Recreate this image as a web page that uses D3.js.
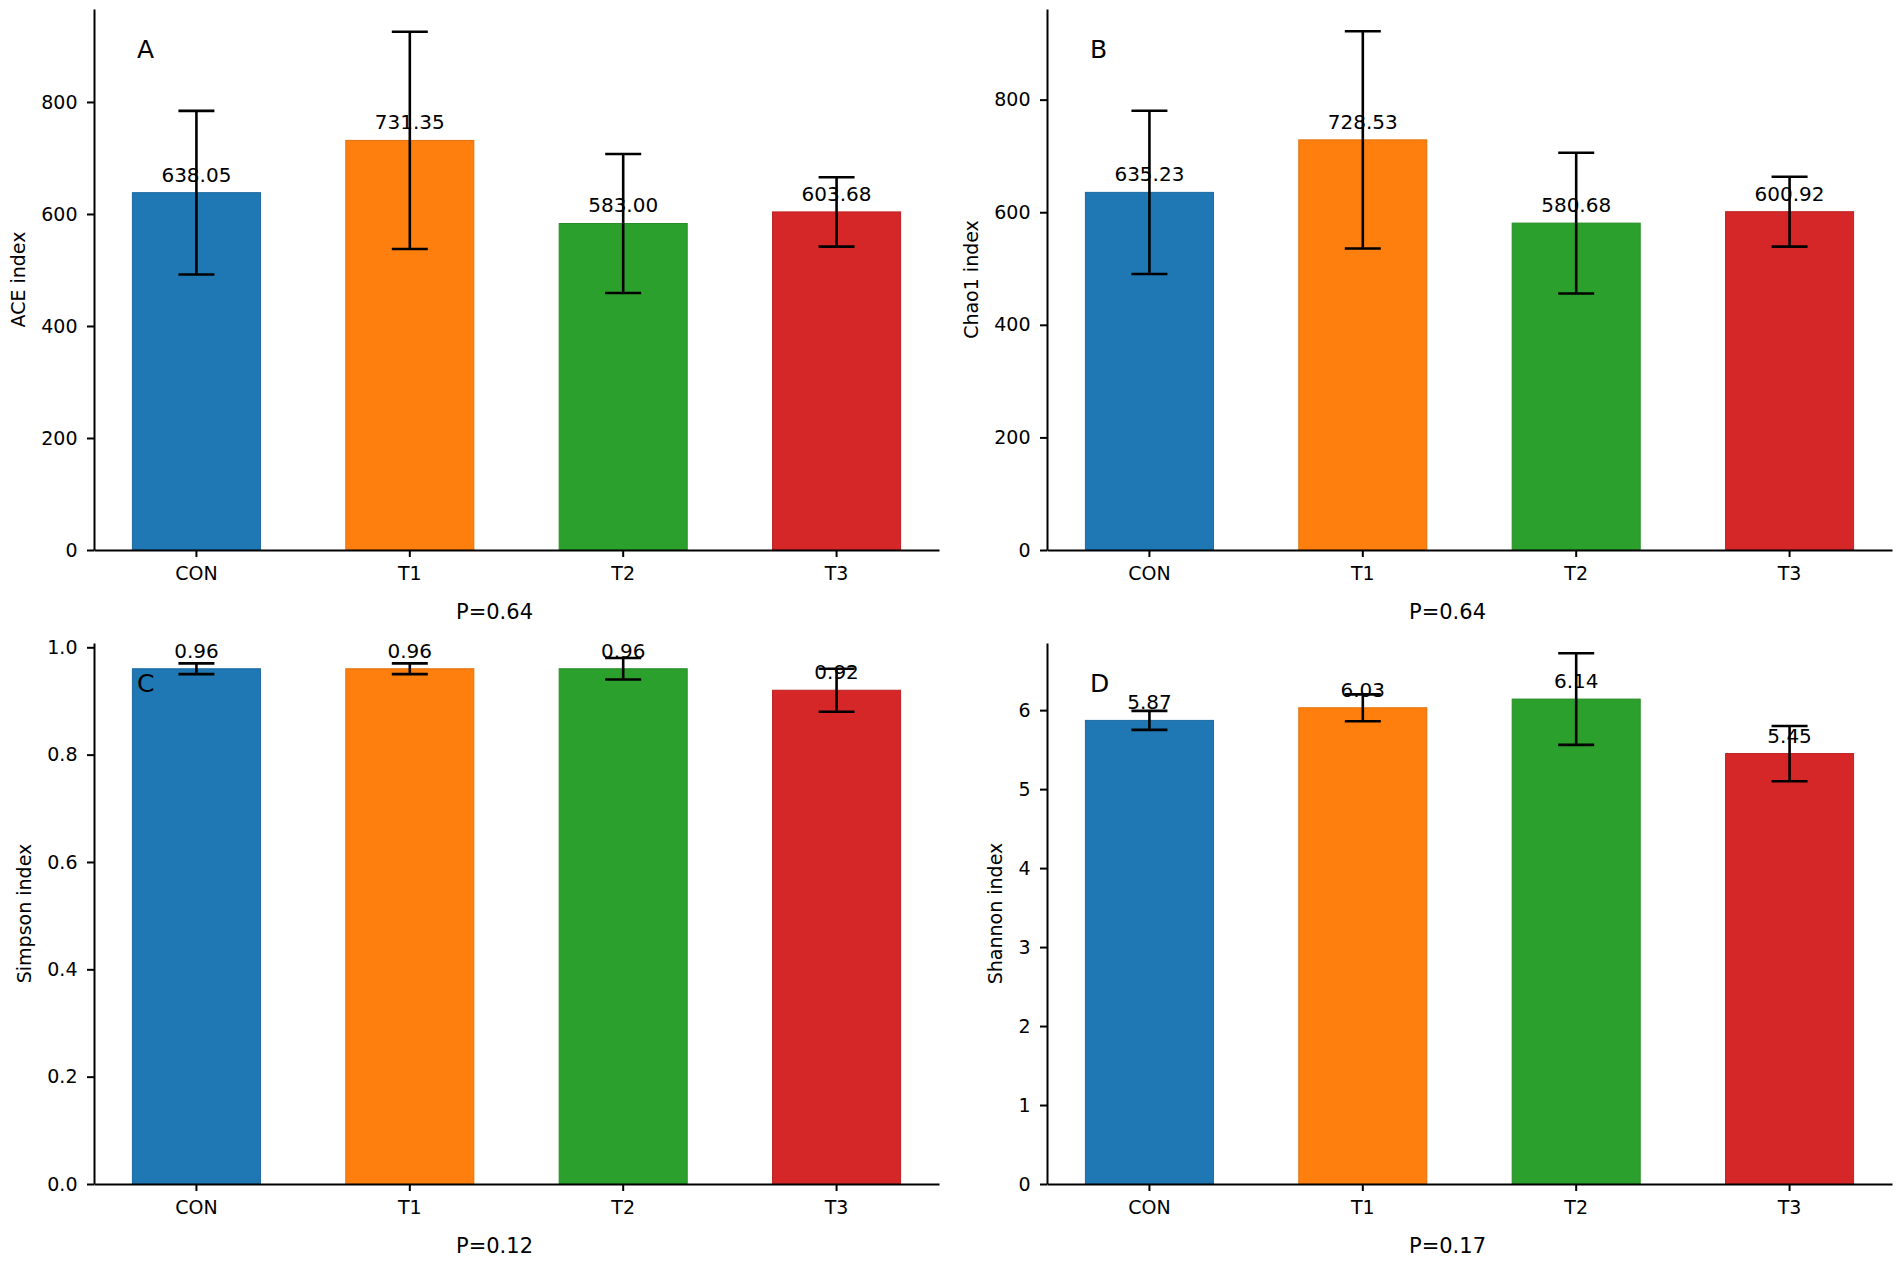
<!DOCTYPE html>
<html>
<head>
<meta charset="utf-8">
<script src="https://cdn.jsdelivr.net/npm/d3@7"></script>
<style>
  body { margin: 0; background: #fff; }
  svg { display: block; font-family: "DejaVu Sans", sans-serif; }
</style>
</head>
<body>
<div id="chart"></div>
<script>
// groups on the x axis
const groups = ["CON", "T1", "T2", "T3"];
const barColors = ["#1f77b4", "#ff7f0e", "#2ca02c", "#d62728"];

// ACE
const aceMean = [638.05, 731.35, 583.0, 603.68];
const aceErr = [146, 194, 124, 62];
// Chao1
const chaoMean = [635.23, 728.53, 580.68, 600.92];
const chaoErr = [145, 193, 125, 62];
// Simpson
const simpsonMean = [0.96, 0.96, 0.96, 0.92];
const simpsonErr = [0.01, 0.01, 0.02, 0.04];
// Shannon
const shannonMean = [5.87, 6.03, 6.14, 5.45];
const shannonErr = [0.12, 0.17, 0.58, 0.35];

// y ticks
const countTicks = [0, 200, 400, 600, 800];
const simpsonTicks = [0, 0.2, 0.4, 0.6, 0.8, 1.0];
const shannonTicks = [0, 1, 2, 3, 4, 5, 6];

// upper end of each y axis
const yTops = [966, 961, 1.008, 6.85];
const panelLetters = ["A", "B", "C", "D"];
const yLabels = ["ACE index", "Chao1 index", "Simpson index", "Shannon index"];
const pLabels = ["P=0.64", "P=0.64", "P=0.12", "P=0.17"];

const width = 1902, height = 1266;
const colLeft = [94, 1047];
const rowTop = [9, 643];
const plotW = 845, plotH = 541;

const panels = [
  { means: aceMean, errs: aceErr, ticks: countTicks, fmt: d3.format("d") },
  { means: chaoMean, errs: chaoErr, ticks: countTicks, fmt: d3.format("d") },
  { means: simpsonMean, errs: simpsonErr, ticks: simpsonTicks, fmt: d3.format(".1f") },
  { means: shannonMean, errs: shannonErr, ticks: shannonTicks, fmt: d3.format("d") },
];

const svg = d3
  .select("#chart")
  .append("svg")
  .attr("width", width)
  .attr("height", height);

svg.append("rect").attr("width", width).attr("height", height).attr("fill", "#fff");

panels.forEach((p, k) => {
  const left = colLeft[k % 2];
  const top = rowTop[Math.floor(k / 2)];
  const bottom = top + plotH;

  const x = d3
    .scaleBand()
    .domain(groups)
    .range([left, left + plotW])
    .paddingInner(0.4)
    .paddingOuter(0.18);
  const y = d3.scaleLinear().domain([0, yTops[k]]).range([bottom, top]);

  const g = svg.append("g");

  // bars
  g.selectAll("rect.bar")
    .data(groups)
    .join("rect")
    .attr("class", "bar")
    .attr("x", (d) => x(d))
    .attr("width", x.bandwidth())
    .attr("y", (d, i) => y(p.means[i]))
    .attr("height", (d, i) => y(0) - y(p.means[i]))
    .attr("fill", (d, i) => barColors[i])
    .attr("stroke", (d, i) => d3.color(barColors[i]).darker(0.35))
    .attr("stroke-width", 1);

  // error bars
  const cap = 18;
  const eb = g
    .selectAll("g.err")
    .data(groups)
    .join("g")
    .attr("class", "err")
    .attr("stroke", "#000")
    .attr("stroke-width", 2.6);
  eb.append("line")
    .attr("x1", (d) => x(d) + x.bandwidth() / 2)
    .attr("x2", (d) => x(d) + x.bandwidth() / 2)
    .attr("y1", (d, i) => y(p.means[i] - p.errs[i]))
    .attr("y2", (d, i) => y(p.means[i] + p.errs[i]));
  eb.append("line")
    .attr("x1", (d) => x(d) + x.bandwidth() / 2 - cap)
    .attr("x2", (d) => x(d) + x.bandwidth() / 2 + cap)
    .attr("y1", (d, i) => y(p.means[i] + p.errs[i]))
    .attr("y2", (d, i) => y(p.means[i] + p.errs[i]));
  eb.append("line")
    .attr("x1", (d) => x(d) + x.bandwidth() / 2 - cap)
    .attr("x2", (d) => x(d) + x.bandwidth() / 2 + cap)
    .attr("y1", (d, i) => y(p.means[i] - p.errs[i]))
    .attr("y2", (d, i) => y(p.means[i] - p.errs[i]));

  // value labels
  g.selectAll("text.val")
    .data(groups)
    .join("text")
    .attr("class", "val")
    .attr("x", (d) => x(d) + x.bandwidth() / 2)
    .attr("y", (d, i) => y(p.means[i]) - 11)
    .attr("text-anchor", "middle")
    .attr("font-size", 20)
    .text((d, i) => p.means[i].toFixed(2));

  // axes
  const gx = g
    .append("g")
    .attr("transform", `translate(0,${bottom})`)
    .call(d3.axisBottom(x).tickSize(7).tickPadding(9.5).tickSizeOuter(0));
  const gy = g
    .append("g")
    .attr("transform", `translate(${left},0)`)
    .call(
      d3
        .axisLeft(y)
        .tickValues(p.ticks)
        .tickFormat(p.fmt)
        .tickSize(7)
        .tickPadding(9.5)
        .tickSizeOuter(0)
    );
  [gx, gy].forEach((ax) => {
    ax.select(".domain").attr("stroke-width", 2);
    ax.selectAll(".tick line").attr("stroke-width", 2);
    ax.selectAll(".tick text")
      .attr("font-size", 19)
      .attr("font-family", "DejaVu Sans")
      .attr("fill", "#000");
  });

  // y label beside the tick labels
  const bb = gy.node().getBBox();
  const lx = left + bb.x - 23;
  g.append("text")
    .attr("transform", `translate(${lx},${(top + bottom) / 2}) rotate(-90)`)
    .attr("text-anchor", "middle")
    .attr("dy", "0.35em")
    .attr("font-size", 19)
    .text(yLabels[k]);

  // p value under the axis
  g.append("text")
    .attr("x", left + plotW / 2 - 22)
    .attr("y", bottom + 68.5)
    .attr("text-anchor", "middle")
    .attr("font-size", 21)
    .text(pLabels[k]);

  // panel letter
  g.append("text")
    .attr("x", left + 43)
    .attr("y", top + 48.5)
    .attr("font-size", 25)
    .text(panelLetters[k]);
});
</script>
</body>
</html>
